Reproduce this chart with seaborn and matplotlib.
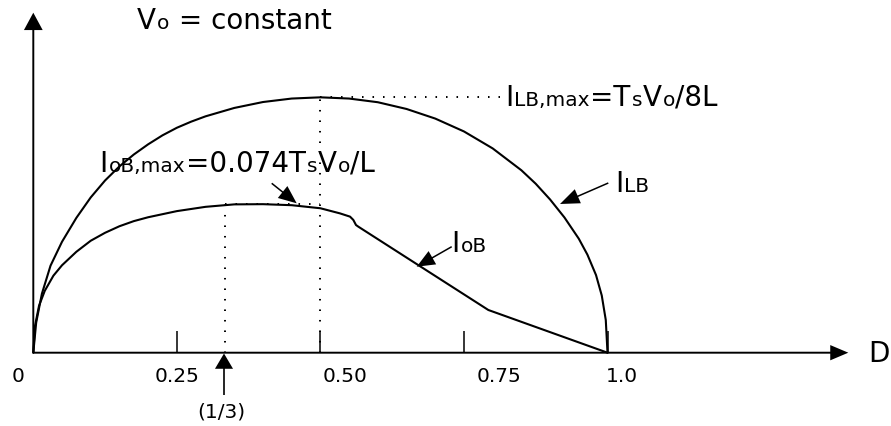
import numpy as np
import pandas as pd
import matplotlib
matplotlib.use("Agg")
import matplotlib.pyplot as plt
import seaborn as sns

# ---------------- data (units of Ts*Vo/L) ----------------
D_ILB = [0.0, 0.005, 0.015, 0.03, 0.05, 0.075, 0.1, 0.125, 0.15, 0.175, 0.2,
         0.225, 0.25, 0.275, 0.3, 0.35, 0.4, 0.45, 0.5, 0.55, 0.6, 0.65, 0.7,
         0.75, 0.8, 0.85, 0.875, 0.9, 0.925, 0.95, 0.965, 0.98, 0.99, 0.997, 1.0]
I_LB = [0.0, 0.0147, 0.0289, 0.0426, 0.0543, 0.0660, 0.0760, 0.0843, 0.0912,
        0.0970, 0.1020, 0.1064, 0.1101, 0.1131, 0.1157, 0.1198, 0.1227, 0.1244,
        0.1250, 0.1244, 0.1226, 0.1193, 0.1146, 0.1083, 0.1000, 0.0893, 0.0827,
        0.0750, 0.0662, 0.0558, 0.0480, 0.0380, 0.0280, 0.0160, 0.0]

D_IOB = [0.0, 0.003, 0.01, 0.02, 0.035, 0.05, 0.075, 0.1, 0.125, 0.15, 0.175,
         0.2, 0.25, 0.3, 0.35, 0.4, 0.45, 0.5, 0.534, 0.5516, 0.5573, 0.562,
         0.566, 0.7925, 1.0]
I_OB = [0.0, 0.0132, 0.0230, 0.0303, 0.0377, 0.0428, 0.0494, 0.0548, 0.0587,
        0.0619, 0.0644, 0.0663, 0.0693, 0.0714, 0.0726, 0.0727, 0.0722, 0.0707,
        0.0682, 0.0666, 0.0650, 0.0625, 0.0617, 0.0209, 0.0]

TICK_POS = [0.25, 0.50, 0.75, 1.0]
TICK_LABELS = ["0", "0.25", "0.50", "0.75", "1.0"]
D_IOB_MAX = 1 / 3
D_ILB_MAX = 0.5
IOB_MAX = 0.0728
ILB_MAX = 0.125

# ---------------- figure ----------------
sns.set_theme(style="white")
plt.rcParams["font.family"] = ["DejaVu Sans"]
plt.rcParams["text.color"] = "black"

W, H = 891, 426
fig = plt.figure(figsize=(W / 100, H / 100), dpi=100)
ax = fig.add_axes([0, 0, 1, 1])

X0, XS = 33.3, 574.2      # px of D=0, px per unit D
Y0, YS = 352.7, 2043.0    # px (from top) of I=0, px per unit I
ax.set_xlim(-X0 / XS, (W - X0) / XS)
ax.set_ylim(-(H - Y0) / YS, Y0 / YS)
ax.axis("off")

df = pd.concat([
    pd.DataFrame({"D": D_ILB, "I": I_LB, "curve": "ILB"}),
    pd.DataFrame({"D": D_IOB, "I": I_OB, "curve": "IoB"}),
])
sns.lineplot(data=df, x="D", y="I", hue="curve", palette=["black", "black"],
             estimator=None, sort=False, legend=False, lw=1.5, ax=ax)
for ln in ax.lines:
    ln.set_solid_joinstyle("round")

# tick marks
ax.vlines(TICK_POS, 0, 22 / YS, color="black", lw=1.1)

# dotted guides
dots = dict(color="black", lw=1.4, linestyle=(0, (0.8, 4.6)))
ax.plot([D_ILB_MAX, D_ILB_MAX], [0, ILB_MAX], **dots)
ax.plot([D_ILB_MAX, (500 - X0) / XS], [ILB_MAX, ILB_MAX], **dots)
ax.plot([D_IOB_MAX, D_IOB_MAX], [0, IOB_MAX], **dots)
ax.plot([D_IOB_MAX, D_ILB_MAX], [IOB_MAX, IOB_MAX], **dots)


def px(x, y):
    return (x, H - y)


def arrow(x0, y0, x1, y1, hl, hw, w=1.1):
    ax.annotate("", xy=px(x1, y1), xycoords="figure pixels",
                xytext=px(x0, y0), textcoords="figure pixels",
                arrowprops=dict(width=w, headwidth=hw, headlength=hl, shrink=0,
                                fc="black", ec="black", lw=0))


# axes arrows
arrow(X0, Y0, 848.3, Y0, 13, 11, 1.4)
arrow(X0, Y0, X0, 12.7, 12.5, 13.5, 1.4)
# (1/3) arrow
arrow(224, 395, 224, 353.5, 11, 13, 1.2)
# label arrows
arrow(271.7, 183.3, 296.7, 203.3, 13, 11)
arrow(608.3, 183.0, 560.0, 204.0, 14, 11)
arrow(451.7, 246.7, 416.7, 266.7, 13, 11)

renderer = fig.canvas.get_renderer()
L, S = 20, 14.5


def rich(x, y, pieces):
    for s, size in pieces:
        t = fig.text(x / W, 1 - y / H, s, fontsize=size, va="baseline",
                     ha="left", color="black")
        bb = t.get_window_extent(renderer=renderer)
        x = bb.x1 + (1.0 if size == L else 0.5)


rich(136.7, 29.3, [("V", L), ("o", S), (" = constant", L)])
rich(99.3, 171.7, [("I", L), ("oB,max", S), ("=0.074T", L), ("s", S),
                   ("V", L), ("o", S), ("/L", L)])
rich(505.0, 105.7, [("I", L), ("LB,max", S), ("=T", L), ("s", S),
                    ("V", L), ("o", S), ("/8L", L)])
rich(615.0, 191.7, [("I", L), ("LB", S)])
rich(451.7, 251.7, [("I", L), ("oB", S)])
rich(868.0, 361.5, [("D", L)])

# tick labels
tick_x = [(17.8, "center"), (177.0, "center"), (323.0, "left"),
          (477.0, "left"), (606.0, "left")]
for (x, ha), lab in zip(tick_x, TICK_LABELS):
    fig.text(x / W, 1 - 376.3 / H, lab, fontsize=14.5, ha=ha, va="center",
             color="black")
fig.text(221 / W, 1 - 412 / H, "(1/3)", fontsize=14.5, ha="center",
         va="center", color="black")

fig.savefig("out.png", dpi=100)
